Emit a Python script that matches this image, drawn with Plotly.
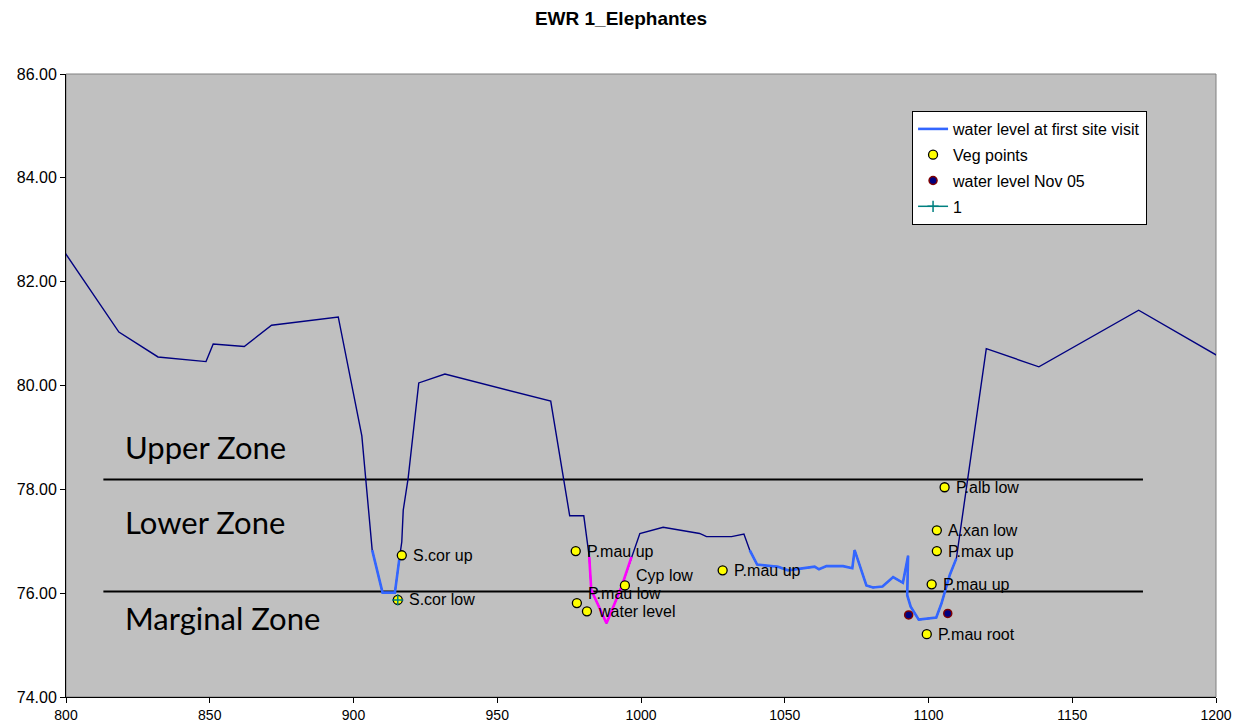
import plotly.graph_objects as go

# Ground profile (chainage, elevation)
profile_x = [797.9, 818.4, 832.0, 848.7, 851.2, 862.0, 871.5, 894.7, 902.9, 906.5,
             910.1, 914.4, 915.9, 916.8, 917.3, 919.0, 922.7, 931.8, 968.6, 975.2,
             980.1, 982.0, 982.7, 988.0, 993.2, 996.7, 999.6, 1007.7, 1020.4, 1022.8,
             1031.5, 1035.8, 1037.8, 1040.4, 1047.7, 1051.1, 1060.4, 1061.9, 1064.5, 1070.3,
             1073.5, 1074.3, 1078.4, 1080.7, 1084.0, 1087.7, 1091.1, 1092.9, 1092.6, 1093.8,
             1096.6, 1102.7, 1104.5, 1107.4, 1109.7, 1120.1, 1138.4, 1173.1, 1202.2]
profile_y = [82.70, 81.03, 80.55, 80.46, 80.80, 80.75, 81.16, 81.32, 79.03, 76.83,
             76.01, 76.01, 76.64, 76.99, 77.60, 78.21, 80.05, 80.22, 79.70, 77.49,
             77.49, 76.70, 76.06, 75.42, 76.12, 76.70, 77.15, 77.27, 77.15, 77.09,
             77.09, 77.14, 76.83, 76.55, 76.51, 76.44, 76.51, 76.46, 76.52, 76.52,
             76.48, 76.83, 76.15, 76.11, 76.13, 76.31, 76.20, 76.72, 75.96, 75.74,
             75.49, 75.53, 75.80, 76.35, 76.67, 80.71, 80.36, 81.45, 80.52]

# Water level at first site visit (wetted profile)
wl_x = [906.5, 910.1, 914.4, 915.9, None,
        1037.8, 1040.4, 1047.7, 1051.1, 1060.4, 1061.9, 1064.5, 1070.3, 1073.5, 1074.3,
        1078.4, 1080.7, 1084.0, 1087.7, 1091.1, 1092.9, 1092.6, 1093.8, 1096.6, 1102.7,
        1104.5, 1107.4, 1109.7]
wl_y = [76.83, 76.01, 76.01, 76.64, None,
        76.83, 76.55, 76.51, 76.44, 76.51, 76.46, 76.52, 76.52, 76.48, 76.83,
        76.15, 76.11, 76.13, 76.31, 76.20, 76.72, 75.96, 75.74, 75.49, 75.53,
        75.80, 76.35, 76.67]

# Magenta section
mag_x = [982.0, 982.7, 988.0, 993.2, 996.7]
mag_y = [76.70, 76.06, 75.42, 76.12, 76.70]

# Veg points
veg_x = [916.8, 915.4, 977.3, 977.7, 981.2, 994.4, 1028.4, 1105.6, 1102.9, 1102.9, 1101.1, 1099.4]
veg_y = [76.73, 75.87, 76.81, 75.81, 75.65, 76.15, 76.44, 78.04, 77.21, 76.81, 76.17, 75.21]
veg_labels = ["S.cor up", "S.cor low", "P.mau up", "P.mau low", "water level", "Cyp low",
              "P.mau up", "P.alb low", "A.xan low", "P.max up", "P.mau up", "P.mau root"]
veg_label_raise = [0, 0, 0, 10, 0, 10, 0, 0, 0, 0, 0, 0]

# Water level Nov 05
nov_x = [1093.1, 1106.7]
nov_y = [75.58, 75.61]

# Series "1"
s1_x = [915.4]
s1_y = [75.87]

# Zones
zone_levels = [78.19, 76.03]
zone_x = [813.0, 1174.6]
zone_names = ["Upper Zone", "Lower Zone", "Marginal Zone"]
zone_label_y = [78.81, 77.37, 75.52]
zone_label_x = 819.8

FONT = "Liberation Sans, Arial"

fig = go.Figure()

for lvl in zone_levels:
    fig.add_trace(go.Scatter(x=zone_x, y=[lvl, lvl], mode="lines",
                             line=dict(color="black", width=2), showlegend=False,
                             hoverinfo="skip"))

fig.add_trace(go.Scatter(x=profile_x, y=profile_y, mode="lines",
                         line=dict(color="#000080", width=1.4), showlegend=False))

fig.add_trace(go.Scatter(x=wl_x, y=wl_y, mode="lines", name="water level at first site visit",
                         line=dict(color="#3366FF", width=2.6), legendgroup="a"))

fig.add_trace(go.Scatter(x=mag_x, y=mag_y, mode="lines", showlegend=False,
                         line=dict(color="#FF00FF", width=2.6)))

fig.add_trace(go.Scatter(x=veg_x, y=veg_y, mode="markers", name="Veg points",
                         marker=dict(color="#FFFF00", size=9, line=dict(color="black", width=1.3)),
                         legendgroup="b"))

for xx, yy, lab, dy in zip(veg_x, veg_y, veg_labels, veg_label_raise):
    fig.add_annotation(x=xx, y=yy, text=lab, showarrow=False, xanchor="left", yanchor="middle",
                       xshift=9, yshift=dy,
                       font=dict(family=FONT, size=16, color="black"))

fig.add_trace(go.Scatter(x=nov_x, y=nov_y, mode="markers", name="water level Nov 05",
                         marker=dict(color="#000080", size=8, line=dict(color="#800000", width=1.5)),
                         legendgroup="c"))

fig.add_trace(go.Scatter(x=s1_x, y=s1_y, mode="lines+markers", name="1",
                         line=dict(color="#008080", width=1.5),
                         marker=dict(symbol="cross-thin", size=8, line=dict(color="#008080", width=1.5)),
                         legendgroup="d"))

for name, yy in zip(zone_names, zone_label_y):
    fig.add_annotation(x=zone_label_x, y=yy, text=name, showarrow=False,
                       xanchor="left", yanchor="middle",
                       font=dict(family="Lato", size=31, color="black"))

fig.add_shape(type="rect", xref="paper", yref="paper", x0=0, y0=0, x1=1, y1=1,
              line=dict(color="#808080", width=1), layer="below")

fig.update_layout(
    width=1242, height=724,
    margin=dict(l=66, r=26, t=74, b=27, autoexpand=False),
    paper_bgcolor="white", plot_bgcolor="#C0C0C0",
    title=dict(text="<b>EWR 1_Elephantes</b>", x=0.5, xref="container", xanchor="center",
               y=0.975, yref="container", yanchor="middle",
               font=dict(family=FONT, size=19, color="black")),
    font=dict(family=FONT, color="black"),
    legend=dict(x=0.7357, y=0.9406, xanchor="left", yanchor="top",
                bgcolor="white", bordercolor="black", borderwidth=1,
                font=dict(family=FONT, size=16, color="black"),
                tracegroupgap=2, traceorder="grouped", itemwidth=30),
    showlegend=True,
)

fig.update_xaxes(range=[800, 1200], tickmode="linear", tick0=800, dtick=50, automargin=False,
                 showgrid=False, zeroline=False, showline=True, linecolor="black", linewidth=1,
                 ticks="outside", ticklen=5, tickcolor="black",
                 tickfont=dict(size=14, family=FONT))
fig.update_yaxes(range=[74, 86], tickmode="linear", tick0=74, dtick=2, tickformat=".2f",
                 automargin=False,
                 showgrid=False, zeroline=False, showline=True, linecolor="black", linewidth=1,
                 ticks="outside", ticklen=5, tickcolor="black",
                 tickfont=dict(size=16, family=FONT))

fig.write_html("out.html", config={"displayModeBar": False},
               post_script="document.body.style.margin='0px';document.body.style.overflow='hidden';")
